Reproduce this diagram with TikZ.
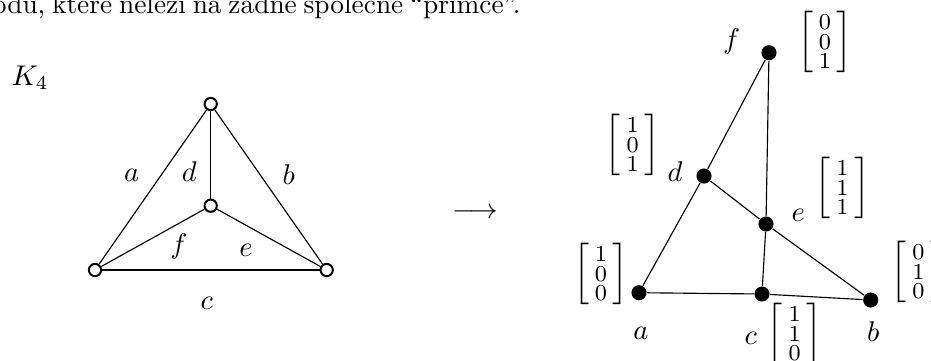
\documentclass[tikz,border=0pt]{standalone}
\usepackage{amsmath}
\usepackage{fontspec}
\usetikzlibrary{positioning}

\begin{document}
\begin{tikzpicture}[
  x=0.351pt, y=-0.351pt,
  vertex/.style={circle, draw, line width=0.7pt, fill=white, inner sep=0pt, minimum size=4.3pt},
  point/.style={circle, fill=black, inner sep=0pt, minimum size=5.3pt},
  edge/.style={line width=0.4pt},
  lbl/.style={inner sep=0pt},
  vec/.style={inner sep=0pt, font=\large}
]
\useasboundingbox (0,0) rectangle (931,360);

% cut-off line of text above the picture
\node[anchor=base east, inner sep=0pt, font=\fontsize{9.6}{11.5}\selectfont] (intro) at (521,13) {\spaceskip=2.4pt plus 1pt\relax bodu, které neleží na žádné společné ``přímce''.};

% graph K_4
\node[anchor=base west, inner sep=0pt] (title) at (11,85) {$K_4$};
\node[vertex] (top) at (210.7,104) {};
\node[vertex] (mid) at (210.7,205.7) {};
\node[vertex] (left) at (95,270) {};
\node[vertex] (right) at (326.7,270) {};

\draw[edge] (top)--(left);
\draw[edge] (top)--(right);
\draw[edge] (top)--(mid);
\draw[edge] (mid)--(left);
\draw[edge] (mid)--(right);
\draw[edge] (left)--(right);

\node[lbl] (ea) at (131.7,175) {$a$};
\node[lbl] (ed) at (189.3,171.7) {$d$};
\node[lbl] (eb) at (288.7,175) {$b$};
\node[lbl] (ef) at (179,246.7) {$f$};
\node[lbl] (ee) at (246,250) {$e$};
\node[lbl] (ec) at (206.7,303.3) {$c$};

\node[lbl] (maps) at (475.5,213) {$\longrightarrow$};

% vector representation
\node[point] (pf) at (769,52.7) {};
\node[point] (pd) at (704,176) {};
\node[point] (pe) at (766,224) {};
\node[point] (pa) at (639,292.7) {};
\node[point] (pc) at (762,294) {};
\node[point] (pb) at (870.7,300) {};

\draw[edge] (pf)--(pd);
\draw[edge] (pd)--(pa);
\draw[edge] (pf)--(pe);
\draw[edge] (pe)--(pc);
\draw[edge] (pd)--(pe);
\draw[edge] (pe)--(pb);
\draw[edge] (pa)--(pc);
\draw[edge] (pc)--(pb);

\node[lbl] (la) at (641,333) {$a$};
\node[lbl] (lb) at (873.3,331.7) {$b$};
\node[lbl] (lc) at (750.7,338) {$c$};
\node[lbl] (ld) at (675,171.7) {$d$};
\node[lbl] (le) at (798.3,215) {$e$};
\node[lbl] (lf) at (731.7,41.7) {$f$};

\node[vec] (va) at (601,274) {$\left[\begin{smallmatrix}1\\0\\0\end{smallmatrix}\right]$};
\node[vec] (vb) at (918.5,272) {$\left[\begin{smallmatrix}0\\1\\0\end{smallmatrix}\right]$};
\node[vec] (vc) at (794.7,334) {$\left[\begin{smallmatrix}1\\1\\0\end{smallmatrix}\right]$};
\node[vec] (vd) at (632.7,145) {$\left[\begin{smallmatrix}1\\0\\1\end{smallmatrix}\right]$};
\node[vec] (ve) at (842.5,188) {$\left[\begin{smallmatrix}1\\1\\1\end{smallmatrix}\right]$};
\node[vec] (vf) at (825,42) {$\left[\begin{smallmatrix}0\\0\\1\end{smallmatrix}\right]$};
\end{tikzpicture}
\end{document}
